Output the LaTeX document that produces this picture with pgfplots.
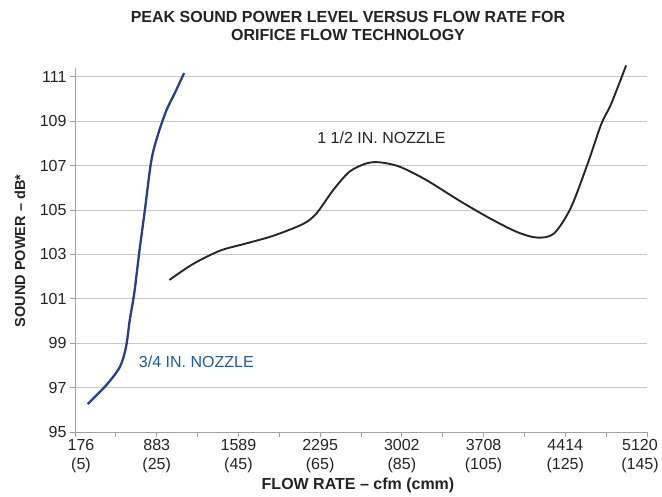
\documentclass[border=0pt]{standalone}
\usepackage{pgfplots}
\pgfplotsset{compat=1.18}
\usepackage{fontspec}
\setmainfont{Liberation Sans}
\definecolor{navy}{RGB}{38,62,140}
\definecolor{lblblue}{RGB}{30,90,165}
\definecolor{gridgray}{RGB}{200,200,200}
\definecolor{axgray}{RGB}{160,160,160}
\definecolor{txt}{RGB}{35,35,35}
\begin{document}
\begin{tikzpicture}
\useasboundingbox (-75pt,-65pt) rectangle (587pt,432pt);
\begin{axis}[
  at={(0pt,0pt)}, anchor=south west,
  scale only axis,
  width=572pt, height=364pt,
  xmin=0, xmax=14, ymin=95, ymax=111.4,
  axis x line*=bottom, axis y line*=left,
  axis line style={axgray, line width=0.8pt, -},
  xtick={0,...,14},
  xticklabels={{\hspace*{12pt}176\\\hspace*{12pt}(5)},{},{883\\(25)},{},{1589\\(45)},{},{2295\\(65)},{},{3002\\(85)},{},{3708\\(105)},{},{4414\\(125)},{},{5120\hspace*{14pt}\\(145)\hspace*{14pt}}},
  xticklabel style={align=center, font=\fontsize{16}{19}\selectfont, text=txt, inner sep=1pt, yshift=-1pt},
  ytick={95,97,...,111},
  yticklabel style={font=\fontsize{16}{19}\selectfont, text=txt},
  /pgf/number format/assume math mode=true,
  tick align=outside,
  major tick length=5pt,
  tick style={axgray, line width=0.8pt},
  ymajorgrids, grid style={gridgray, line width=0.9pt},
  clip=false,
]
\addplot[navy, line width=2.3pt, smooth, tension=0.5] coordinates {
(0.31,96.26)(0.77,97.12)(1.10,97.94)(1.25,98.84)(1.34,100.04)(1.45,101.25)(1.57,103.05)(1.71,105.0)(1.87,107.25)(2.04,108.45)(2.24,109.5)(2.44,110.26)(2.67,111.17)
};
\addplot[black!85, line width=1.9pt, smooth, tension=0.5] coordinates {
(2.31,101.85)(2.89,102.57)(3.55,103.17)(4.20,103.50)(4.85,103.84)(5.58,104.37)(5.91,104.85)(6.32,105.9)(6.72,106.73)(7.13,107.1)(7.46,107.15)(7.95,106.95)(8.60,106.35)(9.41,105.42)(10.16,104.62)(10.82,104.01)(11.31,103.76)(11.72,103.94)(12.13,105.08)(12.54,107.05)(12.88,108.87)(13.12,109.77)(13.49,111.52)
};
\node[font=\fontsize{16}{19}\selectfont, text=txt] at (axis cs:7.50,108.24) {1 1/2 IN. NOZZLE};
\node[font=\fontsize{16}{19}\selectfont, text=lblblue] at (axis cs:2.97,98.17) {3/4 IN. NOZZLE};
\end{axis}
\node[font=\bfseries\fontsize{16}{18}\selectfont, text=txt, align=center] at (273pt,406pt) {PEAK SOUND POWER LEVEL VERSUS FLOW RATE FOR\\ORIFICE FLOW TECHNOLOGY};
\node[font=\bfseries\fontsize{14.5}{17}\selectfont, text=txt, rotate=90] at (-55pt,181pt) {SOUND POWER -- dB*};
\node[font=\bfseries\fontsize{16}{19}\selectfont, text=txt] at (283pt,-53pt) {FLOW RATE -- cfm (cmm)};
\end{tikzpicture}
\end{document}
